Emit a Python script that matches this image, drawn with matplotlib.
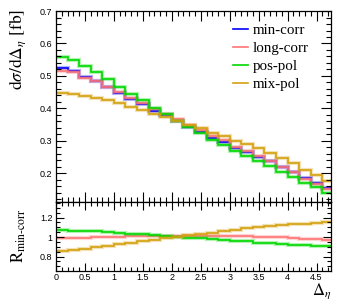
import matplotlib
matplotlib.use("Agg")
import matplotlib.pyplot as plt
import numpy as np
from matplotlib.ticker import MultipleLocator

plt.rcParams['mathtext.fontset'] = 'stix'
plt.rcParams['font.family'] = ['Liberation Sans', 'DejaVu Sans']

# bin edges of delta eta (width 0.2)
edges = [0.0, 0.2, 0.4, 0.6, 0.8, 1.0, 1.2, 1.4, 1.6, 1.8, 2.0, 2.2,
         2.4, 2.6, 2.8, 3.0, 3.2, 3.4, 3.6, 3.8, 4.0, 4.2, 4.4, 4.6, 4.8]

min_corr = [0.523, 0.516, 0.498, 0.484, 0.467, 0.448, 0.430, 0.413, 0.393, 0.378, 0.361, 0.343,
            0.328, 0.310, 0.297, 0.279, 0.265, 0.251, 0.236, 0.220, 0.205, 0.186, 0.171, 0.154]
long_corr = [0.516, 0.511, 0.495, 0.483, 0.467, 0.450, 0.433, 0.416, 0.397, 0.383, 0.366, 0.348,
             0.333, 0.314, 0.301, 0.282, 0.267, 0.252, 0.236, 0.219, 0.203, 0.183, 0.168, 0.150]
pos_pol = [0.559, 0.550, 0.529, 0.512, 0.489, 0.467, 0.445, 0.425, 0.400, 0.383, 0.360, 0.341,
           0.324, 0.303, 0.288, 0.268, 0.253, 0.236, 0.221, 0.204, 0.189, 0.171, 0.156, 0.140]
mix_pol = [0.446, 0.445, 0.437, 0.433, 0.425, 0.416, 0.405, 0.396, 0.382, 0.373, 0.362, 0.349,
           0.338, 0.324, 0.316, 0.300, 0.289, 0.277, 0.263, 0.246, 0.232, 0.211, 0.195, 0.177]

series = [
    ('min-corr', min_corr, '#0000ff'),
    ('long-corr', long_corr, '#ff7474'),
    ('pos-pol', pos_pol, '#00d800'),
    ('mix-pol', mix_pol, '#d4a010'),
]

fig = plt.figure(figsize=(3.49, 3.07), dpi=100)
ax = fig.add_axes([0.1605, 0.343, 0.788, 0.621])
axr = fig.add_axes([0.1605, 0.118, 0.788, 0.225], sharex=ax)

ref = np.array(min_corr)
for name, vals, col in series:
    vals = np.array(vals)
    ax.stairs(vals, edges, color=col, lw=3.0, alpha=0.3, baseline=None)
    ax.stairs(vals, edges, color=col, lw=1.2, label=name, baseline=None)
    if name != 'min-corr':
        r = vals / ref
        axr.stairs(r, edges, color=col, lw=3.0, alpha=0.3, baseline=None)
        axr.stairs(r, edges, color=col, lw=1.2, baseline=None)

ax.set_xlim(0, 4.75)
ax.set_ylim(0.112, 0.7)
axr.set_ylim(0.654, 1.362)

for a in (ax, axr):
    a.tick_params(which='both', direction='in', top=True, right=True, labelsize=6.5, width=0.8, pad=2.5)
    a.tick_params(which='major', length=7)
    a.tick_params(which='minor', length=3.5)
    a.xaxis.set_major_locator(MultipleLocator(0.5))
    a.xaxis.set_minor_locator(MultipleLocator(0.1))
    for s in a.spines.values():
        s.set_linewidth(0.9)
axr.tick_params(which='major', length=5.5)
axr.tick_params(which='minor', length=3)

ax.yaxis.set_major_locator(MultipleLocator(0.1))
ax.yaxis.set_minor_locator(MultipleLocator(0.02))
ax.tick_params(labelbottom=False)
ax.set_yticks([0.2, 0.3, 0.4, 0.5, 0.6, 0.7])
ax.set_yticklabels(['0.2', '0.3', '0.4', '0.5', '0.6', '0.7'])

axr.set_yticks([0.8, 1.0, 1.2])
axr.set_yticklabels(['0.8', '1', '1.2'])
axr.yaxis.set_minor_locator(MultipleLocator(0.05))
axr.set_xticks([0, 0.5, 1, 1.5, 2, 2.5, 3, 3.5, 4, 4.5])
axr.set_xticklabels(['0', '0.5', '1', '1.5', '2', '2.5', '3', '3.5', '4', '4.5'])
axr.tick_params(axis='x', pad=1.5)

leg = ax.legend(loc='upper left', bbox_to_anchor=(0.595, 1.005), frameon=False,
                prop={'family': 'Liberation Serif', 'size': 10.8}, handlelength=1.0,
                handletextpad=0.3, labelspacing=0.3)

fig.text(0.052, 0.97, r'$\mathrm{d}\sigma/\mathrm{d}\Delta_{\eta}\ \mathrm{[fb]}$',
         rotation=90, ha='center', va='top', fontsize=12.5)
fig.text(0.055, 0.231, r'$\mathrm{R}_{\mathrm{min\text{-}corr}}$',
         rotation=90, ha='center', va='center', fontsize=12)
fig.text(0.95, 0.018, r'$\Delta_{\eta}$', ha='right', va='bottom', fontsize=12)

fig.savefig('out.png', dpi=100)
